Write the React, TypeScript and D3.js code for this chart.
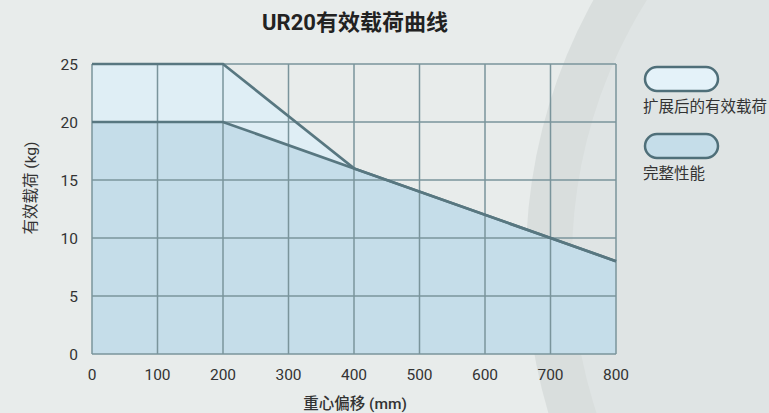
import React from "react";
import * as d3 from "d3";

const W = 769;
const H = 413;

const extOffsets = [0, 200, 400, 700, 800];
const extPayload = [25, 25, 16, 10, 8];
const fullOffsets = [0, 200, 400, 700, 800];
const fullPayload = [20, 20, 16, 10, 8];
const xTicks = [0, 100, 200, 300, 400, 500, 600, 700, 800];
const yTicks = [0, 5, 10, 15, 20, 25];
const legendLabels = ["扩展后的有效载荷", "完整性能"];
const title = "UR20有效载荷曲线";
const xTitle = "重心偏移 (mm)";
const yTitle = "有效载荷 (kg)";

const FONT = "Roboto, 'Noto Sans CJK SC', sans-serif";

export default function App() {
  const x = d3.scaleLinear().domain([0, 800]).range([92, 616]);
  const y = d3.scaleLinear().domain([0, 25]).range([354, 64]);

  const ext = extOffsets.map((o, i) => [o, extPayload[i]] as [number, number]);
  const full = fullOffsets.map((o, i) => [o, fullPayload[i]] as [number, number]);

  const area = d3
    .area<[number, number]>()
    .x((d) => x(d[0]))
    .y0(y(0))
    .y1((d) => y(d[1]));
  const line = d3
    .line<[number, number]>()
    .x((d) => x(d[0]))
    .y((d) => y(d[1]));

  const gridColor = "#7a949b";
  const lineColor = "#587780";
  const legendFills = ["#e4f2f9", "#c5dde9"];

  return (
    <div style={{ position: "fixed", left: 0, top: 0, width: W, height: H }}>
      <svg width={W} height={H} style={{ display: "block" }}>
        <rect x={0} y={0} width={W} height={H} fill="#e8eceb" />
        <circle cx={1061} cy={260} r={535} fill="#d9dedd" />
        <circle cx={1061} cy={260} r={489} fill="#dfe4e4" />

        <text
          x={355}
          y={30}
          textAnchor="middle"
          fontFamily={FONT}
          fontWeight={700}
          fontSize={22}
          fill="#222"
        >
          {title}
        </text>

        <path d={area(ext) || ""} fill="#dfeef5" />
        <path d={area(full) || ""} fill="#c5dde9" />

        {xTicks.map((t) => (
          <line
            key={"gx" + t}
            x1={x(t)}
            x2={x(t)}
            y1={y(0)}
            y2={y(25)}
            stroke={gridColor}
            strokeWidth={1.5}
          />
        ))}
        {yTicks.map((t) => (
          <line
            key={"gy" + t}
            x1={x(0)}
            x2={x(800)}
            y1={y(t)}
            y2={y(t)}
            stroke={gridColor}
            strokeWidth={1.5}
          />
        ))}

        <path d={line(ext) || ""} fill="none" stroke={lineColor} strokeWidth={2.7} />
        <path d={line(full) || ""} fill="none" stroke={lineColor} strokeWidth={2.7} />

        {yTicks.map((t) => (
          <text
            key={"ty" + t}
            x={78}
            y={y(t) + 5.5}
            textAnchor="end"
            fontFamily={FONT}
            fontSize={15.5}
            fill="#333"
          >
            {t}
          </text>
        ))}
        {xTicks.map((t) => (
          <text
            key={"tx" + t}
            x={x(t)}
            y={380}
            textAnchor="middle"
            fontFamily={FONT}
            fontSize={15.5}
            fill="#333"
          >
            {t}
          </text>
        ))}

        <text
          x={355}
          y={409}
          textAnchor="middle"
          fontFamily={FONT}
          fontWeight={500}
          fontSize={15.5}
          fill="#333"
        >
          {xTitle}
        </text>
        <text
          transform="translate(36,188) rotate(-90)"
          textAnchor="middle"
          fontFamily={FONT}
          fontWeight={400}
          fontSize={15.5}
          fill="#333"
        >
          {yTitle}
        </text>

        {legendLabels.map((lab, i) => (
          <g key={lab} transform={`translate(0,${i * 67})`}>
            <rect
              x={645}
              y={67}
              width={73}
              height={24}
              rx={12}
              fill={legendFills[i]}
              stroke="#4f6f79"
              strokeWidth={2.5}
            />
            <text
              x={643}
              y={112}
              fontFamily={FONT}
              fontSize={15.5}
              fill="#333"
            >
              {lab}
            </text>
          </g>
        ))}
      </svg>
    </div>
  );
}
